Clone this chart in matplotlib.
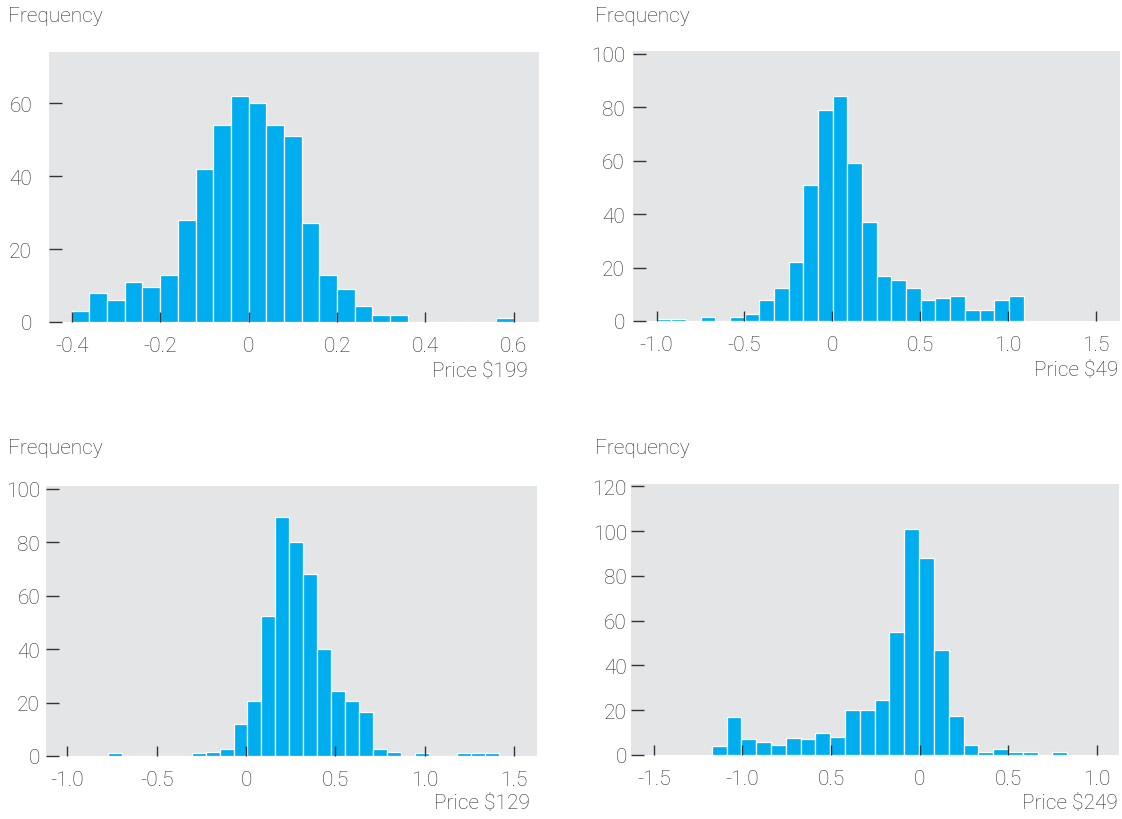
import numpy as np
import matplotlib
matplotlib.use("Agg")
import matplotlib.pyplot as plt

# histogram counts, one list per price point
counts_199 = [3, 8, 6, 11, 9.5, 13, 28, 42, 54, 62, 60, 54, 51, 27, 13, 9, 4.5, 2, 2,
              0, 0, 0, 0, 0, 1]
counts_49 = [0.6, 0.6, 0, 1.5, 0, 1.5, 2.5, 8, 12.5, 22, 51, 79, 84, 59, 37, 17, 15.5,
             12.5, 8, 8.5, 9.5, 4, 4, 8, 9.5]
counts_129 = [1, 0, 0, 0, 0, 0, 1, 1.5, 2.5, 12, 20.5, 52.5, 89.5, 80, 68, 40, 24.5,
              20.5, 16.5, 2.5, 1.5, 0, 1, 0, 0, 1, 1, 1]
counts_249 = [4, 17, 7, 6, 4.5, 7.5, 7, 10, 8, 20, 20, 24.5, 55, 101, 88, 47, 17.5,
              4.5, 1.2, 2.5, 1.2, 1.2, 0, 1.2]

# first bin edge and bin width of each histogram
bin_start = [-0.4, -1.0, -0.773, -1.173]
bin_width = [0.04, 0.0835, 0.0781, 0.0835]

price_labels = ["Price $199", "Price $49", "Price $129", "Price $249"]

xticks_199 = [-0.4, -0.2, 0, 0.2, 0.4, 0.6]
xlabels_199 = ["-0.4", "-0.2", "0", "0.2", "0.4", "0.6"]
xticks_mid = [-1.0, -0.5, 0, 0.5, 1.0, 1.5]
xlabels_mid = ["-1.0", "-0.5", "0", "0.5", "1.0", "1.5"]
xticks_249 = [-1.5, -1.0, -0.5, 0, 0.5, 1.0]
xlabels_249 = ["-1.5", "-1.0", "0.5", "0", "0.5", "1.0"]

yticks_199 = [0, 20, 40, 60]
yticks_100 = [0, 20, 40, 60, 80, 100]
yticks_249 = [0, 20, 40, 60, 80, 100, 120]

BLUE = "#00AEEF"
GREY = "#E4E5E7"
TEXT = "#2e2e2e"

plt.rcParams["font.family"] = ["Roboto", "DejaVu Sans"]
plt.rcParams["font.weight"] = "light"
plt.rcParams["axes.unicode_minus"] = False

W, H = 1122, 820
fig = plt.figure(figsize=(W / 100, H / 100), dpi=100)

# axes boxes in pixels: left, top, right, bottom
boxes = [(49, 53, 539, 323), (633, 52, 1120, 322),
         (46, 487, 537, 757), (631, 485, 1119, 756)]
xlims = [(-0.4515, 0.657), (-1.134, 1.636), (-1.12, 1.629), (-1.628, 1.123)]
ylims = [(0, 74), (0, 101), (0, 101), (0, 121)]
ypads = [12.2, 5.8, 4.3, 2.9]
all_counts = [counts_199, counts_49, counts_129, counts_249]
all_xt = [(xticks_199, xlabels_199), (xticks_mid, xlabels_mid),
          (xticks_mid, xlabels_mid), (xticks_249, xlabels_249)]
all_yt = [yticks_199, yticks_100, yticks_100, yticks_249]
freq_pos = [(8, 16), (595, 17), (8, 448), (595, 448)]
price_pos = [(528, 372), (1118, 371), (530, 804), (1118, 804)]

for i in range(4):
    l, t, r, b = boxes[i]
    ax = fig.add_axes([l / W, 1 - b / H, (r - l) / W, (b - t) / H])
    ax.set_facecolor(GREY)
    for s in ax.spines.values():
        s.set_visible(False)

    c = all_counts[i]
    lefts = bin_start[i] + bin_width[i] * np.arange(len(c))
    ax.bar(lefts, c, width=bin_width[i], align="edge", color=BLUE,
           edgecolor="white", linewidth=0.9)

    ax.set_xlim(*xlims[i])
    ax.set_ylim(*ylims[i])
    ax.set_xticks(all_xt[i][0], all_xt[i][1])
    ax.set_yticks(all_yt[i])
    ax.tick_params(axis="y", direction="in", length=9, width=1, color="#333333",
                   pad=ypads[i], labelsize=15, labelcolor=TEXT)
    ax.tick_params(axis="x", direction="in", length=7, width=1, color="#333333",
                   pad=10, labelsize=15, labelcolor=TEXT)

    fx, fy = freq_pos[i]
    fig.text(fx / W, 1 - fy / H, "Frequency", fontsize=15, color=TEXT,
             ha="left", va="center")
    px, py = price_pos[i]
    fig.text(px / W, 1 - py / H, price_labels[i].replace("$", r"\$"), fontsize=15,
             color=TEXT, ha="right", va="center")

plt.savefig("out.png", dpi=100)
